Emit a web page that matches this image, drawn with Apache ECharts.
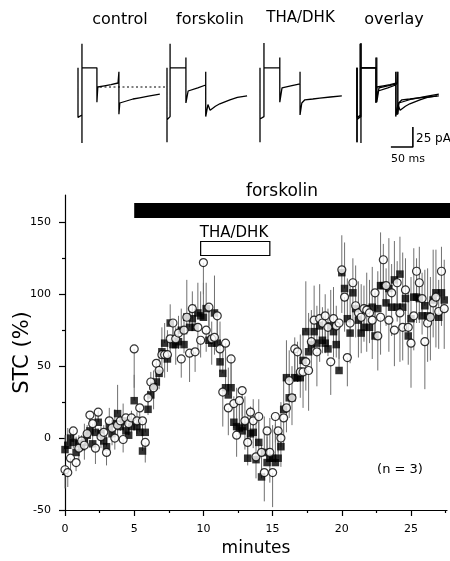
<!DOCTYPE html>
<html><head><meta charset="utf-8">
<script src="https://cdn.jsdelivr.net/npm/echarts@6/dist/echarts.min.js"></script>
<style>html,body{margin:0;padding:0;background:#fff}#c{width:450px;height:561px}</style>
</head><body><div id="c"></div>
<script>
// ---- time course data (minutes, STC %) ----
const minutes = [0,0.2,0.4,0.6,0.8,1,1.2,1.4,1.6,1.8,2,2.2,2.4,2.6,2.8,3,3.2,3.4,3.6,3.8,4,4.2,4.4,4.6,4.8,
5,5.2,5.4,5.6,5.8,6,6.2,6.4,6.6,6.8,7,7.2,7.4,7.6,7.8,8,8.2,8.4,8.6,8.8,9,9.2,9.4,9.6,9.8,
10,10.2,10.4,10.6,10.8,11,11.2,11.4,11.6,11.8,12,12.2,12.4,12.6,12.8,13,13.2,13.4,13.6,13.8,14,14.2,14.4,14.6,14.8,
15,15.2,15.4,15.6,15.8,16,16.2,16.4,16.6,16.8,17,17.2,17.4,17.6,17.8,18,18.2,18.4,18.6,18.8,19,19.2,19.4,19.6,19.8,
20,20.2,20.4,20.6,20.8,21,21.2,21.4,21.6,21.8,22,22.2,22.4,22.6,22.8,23,23.2,23.4,23.6,23.8,24,24.2,24.4,24.6,24.8,
25,25.2,25.4,25.6,25.8,26,26.2,26.4,26.6,26.8,27,27.2,27.4];
const circleSTC = [-22,-24,-14,5,-17,-7,-2,-5,3,16,10,-7,18,1,4,-10,12,7,0,9,12,-1,14,10,14,
62,12,21,12,-3,28,39,35,52,47,58,58,58,69,80,69,73,55,75,84,59,90,60,77,68,
122,75,91,69,70,85,62,32,66,21,55,24,2,26,33,12,-3,18,12,-13,15,-10,-24,5,-10,
-24,15,5,0,14,21,40,28,62,60,46,46,53,47,67,82,60,83,80,85,77,53,83,78,80,
117,98,56,80,108,92,87,84,90,89,87,82,101,71,84,124,106,82,101,75,108,87,77,103,77,
66,85,116,108,97,67,80,84,94,98,88,116,90];
const squareSTC = [-8,-5,0,-3,-10,-4,-6,-3,2,5,-4,4,11,3,-2,-6,8,3,10,17,8,12,5,2,8,
26,8,4,-9,4,20,30,36,39,45,60,66,55,80,65,65,67,75,65,84,77,83,77,87,85,
84,90,68,66,87,66,53,45,35,30,35,11,8,7,5,8,-14,3,4,-15,-3,-27,-10,-17,-14,
-14,-17,-14,-6,20,42,28,28,42,42,42,54,74,60,65,74,66,78,68,66,62,78,74,65,47,
115,104,83,73,101,90,82,73,77,90,77,91,71,90,106,106,94,104,91,110,91,114,91,97,71,
83,98,98,97,85,92,85,84,96,101,84,101,96];
// SEM (circles drawn downward, squares drawn upward)
const circleErr = [13,10,8,12,6,9,7,10,8,6,9,11,7,8,10,9,6,12,8,10,7,9,11,8,10,
27,9,12,10,14,12,10,15,11,13,9,16,12,10,14,18,11,13,16,12,20,15,14,17,12,
22,15,13,18,12,20,16,24,14,19,22,17,15,25,18,20,16,22,19,15,24,18,20,16,21,
24,18,15,20,22,17,26,19,23,21,18,25,20,28,22,19,24,30,21,26,20,23,27,22,25,
30,24,20,28,26,22,31,25,23,29,21,27,33,24,26,32,28,22,30,25,27,34,23,29,26,
31,24,36,28,25,33,27,30,24,35,26,38,28];
const squareErr = [10,12,7,9,11,6,8,13,7,9,10,12,8,6,11,9,13,7,10,20,8,12,9,7,11,
18,10,8,14,9,13,16,11,15,12,17,14,20,13,16,12,18,15,22,26,14,19,16,21,17,
24,18,23,15,26,17,28,20,25,19,22,18,27,16,24,21,29,19,23,26,30,22,25,18,28,
23,27,20,31,24,26,33,22,28,25,30,21,35,27,24,32,26,29,23,34,28,25,31,27,30,
26,32,28,36,24,30,27,34,29,25,33,28,31,26,37,29,24,35,30,27,32,26,38,28,31,
29,34,27,36,30,25,33,28,35,30,26,32,28];
const yTicks = [-50,0,50,100,150];
const yMinorTicks = [-25,25,75,125];
const xTicks = [0,5,10,15,20,25];
const xMinorTicks = [2.5,7.5,12.5,17.5,22.5,27.5];
const forskolinSpan = [5, 28];
const thaDhkSpan = [9.8, 14.8];

// ---- current traces [ms, pA] ----
const traceTitles = ['control','forskolin','THA/DHK','overlay'];
const controlTrace = [[0,24],[0,-38],[9,-35],[9,-70],[9,54],[9,24],[43,24],[43,-19],[45,0],[60,1.5],[75,3],[91,5],[93,19],[93,-34],[95,-20],[110,-17.5],[125,-15],[140,-13.5],[160,-11.5],[186,-9]];
const forskolinTrace = [[0,24],[0,-69],[0,-41],[7,-37],[7,54],[7,24],[43,24],[43,37],[43,-20],[48,-5],[52,-6],[70,-1],[88,2.5],[88,19],[88,-37],[93,-22],[98,-29],[110,-24],[120,-21],[143,-16],[160,-13],[182,-11]];
const thaDhkTrace = [[0,24],[0,-69],[0,-40],[9,-37],[9,55],[9,24],[45,24],[45,37],[45,-19],[50,-1],[70,1.5],[91,4],[91,19],[91,-35],[95,-20],[102,-16],[120,-15],[136,-14],[160,-12.5],[186,-11]];
const baselineRef = [[50,0],[481,0]];
const scaleBar = [[77,-75],[127,-75],[127,-50]];
const scaleBarLabels = ['25 pA','50 ms'];

const FONT = 'DejaVu Sans';
const chart = echarts.init(document.getElementById('c'), null, {renderer:'canvas'});

const traceGridLefts = [78,167,260,357];
const grids = [{left:65, top:195, width:382, height:315, containLabel:false, outerBoundsMode:'none'}];
traceGridLefts.forEach(l => grids.push({left:l, top:39, width:88, height:108, containLabel:false, outerBoundsMode:'none'}));

const xAxes = [
  {gridIndex:0, type:'value', min:0, max:27.6, position:'bottom',
   axisLine:{onZero:false, lineStyle:{color:'#000', width:1.2}},
   axisTick:{customValues:xTicks, length:6, lineStyle:{color:'#000', width:1.2}},
   axisLabel:{customValues:xTicks, color:'#000', fontSize:11, fontFamily:FONT, margin:14},
   splitLine:{show:false},
   name:'minutes', nameLocation:'middle', nameGap:30, nameMoveOverlap:false,
   nameTextStyle:{color:'#000', fontSize:17, fontFamily:FONT}},
  {gridIndex:0, type:'value', min:0, max:27.6, position:'bottom',
   axisLine:{show:false, onZero:false},
   axisTick:{customValues:xMinorTicks, length:3, lineStyle:{color:'#000', width:1.2}},
   axisLabel:{show:false}, splitLine:{show:false}}
];
const yAxes = [
  {gridIndex:0, type:'value', min:-50, max:169, position:'left',
   axisLine:{show:true, onZero:false, lineStyle:{color:'#000', width:1.2}},
   axisTick:{show:true, customValues:yTicks, length:6, lineStyle:{color:'#000', width:1.2}},
   axisLabel:{customValues:yTicks, color:'#000', fontSize:11, fontFamily:FONT, margin:14},
   splitLine:{show:false},
   name:'STC (%)', nameLocation:'middle', nameGap:32, nameMoveOverlap:false,
   nameTextStyle:{color:'#000', fontSize:21, fontFamily:FONT}},
  {gridIndex:0, type:'value', min:-50, max:169, position:'left',
   axisLine:{show:false, onZero:false},
   axisTick:{show:true, customValues:yMinorTicks, length:3, lineStyle:{color:'#000', width:1.2}},
   axisLabel:{show:false}, splitLine:{show:false}}
];
for (let k=1; k<=4; k++) {
  xAxes.push({gridIndex:k, type:'value', min:0, max:200, show:false});
  yAxes.push({gridIndex:k, type:'value', min:-75, max:60, show:false});
}

function errItem(params, api) {
  const p0 = api.coord([api.value(0), api.value(1)]);
  const p1 = api.coord([api.value(0), api.value(2)]);
  return {type:'line', shape:{x1:p0[0], y1:p0[1], x2:p1[0], y2:p1[1]},
          style:{stroke:'#707070', lineWidth:1}};
}

const series = [];
series.push({type:'custom', xAxisIndex:0, yAxisIndex:0, renderItem:errItem, silent:true, z:1,
  encode:{x:0, y:[1,2]},
  data: minutes.map((t,i)=>[t, squareSTC[i], squareSTC[i]+squareErr[i]])});
series.push({type:'custom', xAxisIndex:0, yAxisIndex:0, renderItem:errItem, silent:true, z:1,
  encode:{x:0, y:[1,2]},
  data: minutes.map((t,i)=>[t, circleSTC[i], circleSTC[i]-circleErr[i]])});
series.push({type:'scatter', xAxisIndex:0, yAxisIndex:0, symbol:'rect', symbolSize:7.5, z:2,
  itemStyle:{color:'#000'}, data: minutes.map((t,i)=>[t, squareSTC[i]])});
series.push({type:'scatter', xAxisIndex:0, yAxisIndex:0, symbol:'circle', symbolSize:8, z:3,
  itemStyle:{color:'#fff', borderColor:'#000', borderWidth:1.2}, data: minutes.map((t,i)=>[t, circleSTC[i]])});
// forskolin bar
series.push({type:'custom', xAxisIndex:0, yAxisIndex:0, clip:false, silent:true, z:4,
  renderItem:(p, api)=>{
    const a = api.coord([api.value(0), 0]), b = api.coord([api.value(1), 0]);
    return {type:'rect', shape:{x:a[0], y:203, width:b[0]-a[0], height:15}, style:{fill:'#000'}};
  },
  encode:{x:[0,1]}, data:[[forskolinSpan[0], forskolinSpan[1]]]});
// THA/DHK box
series.push({type:'custom', xAxisIndex:0, yAxisIndex:0, clip:false, silent:true, z:4,
  renderItem:(p, api)=>{
    const a = api.coord([api.value(0), 0]), b = api.coord([api.value(1), 0]);
    return {type:'rect', shape:{x:a[0], y:241.5, width:b[0]-a[0], height:14}, style:{fill:'#fff', stroke:'#000', lineWidth:1.2}};
  },
  encode:{x:[0,1]}, data:[[thaDhkSpan[0], thaDhkSpan[1]]]});

const traceLine = (idx, d) => ({type:'line', xAxisIndex:idx, yAxisIndex:idx, data:d, showSymbol:false, symbol:'none',
  clip:false, silent:true, lineStyle:{color:'#000', width:1.3}, z:3});
series.push(traceLine(2, controlTrace));
series.push(traceLine(3, forskolinTrace));
series.push(traceLine(4, thaDhkTrace));
series.push(traceLine(5, controlTrace));
series.push(traceLine(5, forskolinTrace));
series.push(traceLine(5, thaDhkTrace));
series.push({type:'line', xAxisIndex:2, yAxisIndex:2, data:baselineRef, showSymbol:false, symbol:'none', clip:false,
  silent:true, lineStyle:{color:'#000', width:1, type:[2,2.5]}, z:2});
series.push({type:'line', xAxisIndex:5, yAxisIndex:5, data:scaleBar, showSymbol:false, symbol:'none', clip:false,
  silent:true, lineStyle:{color:'#000', width:1.6}, z:3});

const txt = (x, y, s, size, align) => ({type:'text', x:x, y:y, silent:true,
  style:{text:s, fill:'#000', font: size+'px "'+FONT+'"', align:align||'center', verticalAlign:'middle'}});

const graphic = [
  txt(120, 19.5, traceTitles[0], 16),
  txt(210, 19.5, traceTitles[1], 16),
  txt(300.5, 18.5, traceTitles[2], 15),
  txt(394, 19.5, traceTitles[3], 16),
  txt(282, 192, 'forskolin', 17),
  txt(234, 233, 'THA/DHK', 15),
  txt(400, 470, '(n = 3)', 13),
  txt(416, 139, scaleBarLabels[0], 12, 'left'),
  txt(408, 159, scaleBarLabels[1], 11)
];

chart.setOption({
  animation:false,
  backgroundColor:'#fff',
  grid: grids,
  xAxis: xAxes,
  yAxis: yAxes,
  series: series,
  graphic: graphic
});
</script></body></html>
